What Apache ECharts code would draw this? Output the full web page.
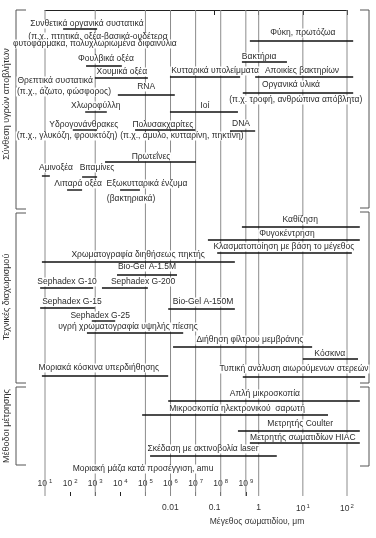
<!DOCTYPE html>
<html><head><meta charset="utf-8">
<script src="https://cdn.jsdelivr.net/npm/echarts@6/dist/echarts.min.js"></script>
<style>html,body{margin:0;padding:0;background:#fff}#c{width:376px;height:538px}</style>
</head><body><div id="c"></div><script>
// x: log10(particle size, μm); level: vertical row position inside the plot (top = 0)
const sizeTicks = [-2, -1, 0, 1, 2];
const sizeTickLabels = ['0.01', '0.1', '1', '10{s|1}', '10{s|2}'];
const massTicks = [1, 2, 3, 4, 5, 6, 7, 8, 9];          // log10(molar mass, amu)
const massGridLines = [1, 3, 5, 6, 7, 8, 9];
const sizeGridLines = [0, 1, 2];

const synthesisBars = [
  [-4.43, -3.66, 19], [-0.20, 2.14, 31], [-0.38, 0.64, 52], [-3.91, -3.10, 56],
  [-2.01, -0.42, 67], [-0.08, 2.14, 67], [-3.71, -2.51, 68], [-0.36, 2.14, 83],
  [-3.19, -1.90, 85], [-3.93, -3.44, 102], [-2.01, -0.47, 102], [-4.21, -3.66, 120],
  [-2.80, -1.44, 120], [-0.65, -0.08, 121], [-3.48, -1.42, 152], [-4.91, -4.73, 166],
  [-4.00, -3.66, 167], [-4.34, -4.00, 180], [-3.14, -2.69, 180]
];
const separationBars = [
  [-0.38, 2.29, 217], [-1.15, 2.29, 230], [-0.94, 2.11, 243], [-4.91, -0.54, 252],
  [-3.21, -1.85, 265], [-4.95, -3.75, 278], [-3.55, -2.51, 278], [-4.95, -3.71, 298],
  [-2.05, -0.54, 299], [-3.78, -3.25, 311], [-3.89, -1.71, 323], [-1.94, 1.21, 337],
  [1.00, 2.25, 349], [-4.91, -2.05, 366], [-0.36, 2.41, 367]
];
const measurementBars = [
  [-2.05, 2.29, 391], [-2.64, 1.57, 405], [-0.47, 2.29, 421], [-0.20, 2.29, 433], [-2.46, 0.41, 446]
];

const labelTexts = [
  'Συνθετικά οργανικά συστατικά', '(π.χ., πτητικά, οξέα-βασικά-ουδέτερα',
  'φυτοφάρμακα, πολυχλωριωμένα διφαινύλια', 'Φύκη, πρωτόζωα', 'Βακτήρια', 'Φουλβικά οξέα',
  'Κυτταρικά υπολείμματα', 'Αποικίες βακτηρίων', 'Χουμικά οξέα', 'Θρεπτικά συστατικά',
  'Οργανικά υλικά', 'RNA', '(π.χ., άζωτο, φώσφορος)', '(π.χ. τροφή, ανθρώπινα απόβλητα)',
  'Χλωροφύλλη', 'Ιοί', 'Υδρογονάνθρακες', 'Πολυσακχαρίτες', 'DNA',
  '(π.χ., γλυκόζη, φρουκτόζη)', '(π.χ., άμυλο, κυτταρίνη, πηκτίνη)', 'Πρωτεΐνες',
  'Αμινοξέα', 'Βιταμίνες', 'Λιπαρά οξέα', 'Εξωκυτταρικά ένζυμα', '(βακτηριακά)',
  'Καθίζηση', 'Φυγοκέντρηση', 'Κλασματοποίηση με βάση το μέγεθος',
  'Χρωματογραφία διηθήσεως πηκτής', 'Bio-Gel A-1.5M', 'Sephadex G-10', 'Sephadex G-200',
  'Sephadex G-15', 'Bio-Gel A-150M', 'Sephadex G-25', 'υγρή χρωματογραφία υψηλής πίεσης',
  'Διήθηση φίλτρου μεμβράνης', 'Κόσκινα', 'Μοριακά κόσκινα υπερδιήθησης',
  'Τυπική ανάλυση αιωρούμενων στερεών', 'Απλή μικροσκοπία', 'Μικροσκοπία ηλεκτρονικού  σαρωτή',
  'Μετρητής Coulter', 'Μετρητής σωματιδίων HIAC', 'Σκέδαση με ακτινοβολία laser',
  'Μοριακή μάζα κατά προσέγγιση, amu'
];
const labelPositions = [
  [-3.89, 14], [-3.64, 27], [-3.71, 34], [1.00, 23], [0.01, 47], [-3.46, 49],
  [-0.99, 61], [0.98, 61], [-3.10, 62], [-4.61, 71], [0.73, 75], [-2.55, 77],
  [-4.41, 82], [0.84, 90], [-3.69, 96], [-1.22, 96], [-3.96, 115], [-2.17, 115],
  [-0.40, 114], [-4.34, 126], [-1.74, 126], [-2.44, 147], [-4.59, 158], [-3.66, 158],
  [-4.09, 174], [-2.53, 174], [-2.89, 189],
  [0.94, 210], [0.64, 224], [0.57, 237], [-2.73, 245], [-2.53, 257], [-4.34, 272],
  [-2.62, 272], [-4.23, 292], [-1.26, 292], [-3.59, 306], [-2.96, 317], [-0.20, 330],
  [1.61, 344], [-3.62, 358], [0.80, 359],
  [0.14, 384], [-0.49, 399], [0.94, 414], [1.00, 428], [-1.26, 439], [-2.62, 459]
];

const groupNames = ['Σύνθεση υγρών αποβλήτων', 'Τεχνικές διαχωρισμού', 'Μέθοδοι μέτρησης'];

const FONT = '"Liberation Sans", Arial, sans-serif';
const chart = echarts.init(document.getElementById('c'), null, {renderer: 'canvas'});

function barSeries(data) {
  return {
    type: 'custom', xAxisIndex: 0, yAxisIndex: 0, z: 4, silent: true,
    encode: {x: [0, 1], y: 2},
    data: data,
    renderItem: function (params, api) {
      const a = api.coord([api.value(0), api.value(2)]);
      const b = api.coord([api.value(1), api.value(2)]);
      return {type: 'line', shape: {x1: a[0], y1: a[1], x2: b[0], y2: b[1]},
        style: {stroke: '#111', lineWidth: 1.4}};
    }
  };
}
function gridSeries(data, axisIdx) {
  return {
    type: 'custom', xAxisIndex: axisIdx, yAxisIndex: 0, z: 1, silent: true,
    encode: {x: 0},
    data: data.map(v => [v, 0]),
    renderItem: function (params, api) {
      const cs = params.coordSys;
      const p = api.coord([api.value(0), 0]);
      return {type: 'line', shape: {x1: p[0], y1: cs.y, x2: p[0], y2: cs.y + cs.height},
        style: {stroke: '#8c8c8c', lineWidth: 1}};
    }
  };
}

const option = {
  backgroundColor: '#fff',
  animation: false,
  grid: {left: 45, right: 29, top: 10, bottom: 42, containLabel: false},
  xAxis: [
    {type: 'value', min: -4.84, max: 2, position: 'bottom',
      splitLine: {show: false},
      axisLine: {lineStyle: {color: '#222', width: 1}},
      axisTick: {customValues: sizeTicks, length: 5, lineStyle: {color: '#222'}},
      axisLabel: {customValues: sizeTicks, margin: 7, color: '#333', fontFamily: FONT, fontSize: 8.5,
        formatter: v => sizeTickLabels[sizeTicks.indexOf(v)],
        rich: {s: {fontSize: 6, fontFamily: FONT, color: '#333', verticalAlign: 'top', padding: [0, 0, 5, 1]}}}},
    {type: 'value', min: 1, max: 13.03, position: 'bottom',
      splitLine: {show: false},
      axisLine: {show: false},
      axisTick: {inside: true, customValues: massTicks.slice(1), length: 4, lineStyle: {color: '#222'}},
      axisLabel: {inside: true, customValues: massTicks, margin: 7, color: '#333', fontFamily: FONT, fontSize: 8.5,
        formatter: v => '10{s|' + v + '}',
        rich: {s: {fontSize: 6, fontFamily: FONT, color: '#333', padding: [0, 0, 5, 2]}}}}
  ],
  yAxis: {type: 'value', min: 0, max: 486, inverse: true, show: false},
  graphic: [
    {type: 'polyline', shape: {points: [[26, 10], [16, 10], [16, 209], [26, 209]]}, style: {stroke: '#555', fill: null, lineWidth: 1}},
    {type: 'polyline', shape: {points: [[26, 213], [16, 213], [16, 383], [26, 383]]}, style: {stroke: '#555', fill: null, lineWidth: 1}},
    {type: 'polyline', shape: {points: [[26, 387], [16, 387], [16, 465], [26, 465]]}, style: {stroke: '#555', fill: null, lineWidth: 1}},
    {type: 'polyline', shape: {points: [[360, 10], [369, 10], [369, 208], [360, 208]]}, style: {stroke: '#555', fill: null, lineWidth: 1}},
    {type: 'polyline', shape: {points: [[360, 212], [369, 212], [369, 383], [360, 383]]}, style: {stroke: '#555', fill: null, lineWidth: 1}},
    {type: 'polyline', shape: {points: [[360, 387], [369, 387], [369, 466], [360, 466]]}, style: {stroke: '#555', fill: null, lineWidth: 1}},
    {type: 'text', x: 7, y: 104, rotation: Math.PI / 2, style: {text: groupNames[0], font: '9px ' + FONT, fill: '#333', align: 'center', verticalAlign: 'middle'}},
    {type: 'text', x: 7, y: 297, rotation: Math.PI / 2, style: {text: groupNames[1], font: '9px ' + FONT, fill: '#333', align: 'center', verticalAlign: 'middle'}},
    {type: 'text', x: 7, y: 426, rotation: Math.PI / 2, style: {text: groupNames[2], font: '9px ' + FONT, fill: '#333', align: 'center', verticalAlign: 'middle'}},
    {type: 'text', x: 257, y: 522, style: {text: 'Μέγεθος σωματιδίου, μm', font: '8.5px ' + FONT, fill: '#333', align: 'center', verticalAlign: 'middle'}}
  ],
  series: [
    gridSeries(massGridLines, 1),
    gridSeries(sizeGridLines, 0),
    {
      type: 'custom', xAxisIndex: 0, yAxisIndex: 0, z: 3, silent: true,
      encode: {x: 0, y: 1},
      data: labelPositions,
      renderItem: function (params, api) {
        const p = api.coord([api.value(0), api.value(1)]);
        return {type: 'text', x: p[0], y: p[1],
          style: {text: labelTexts[params.dataIndex], font: '8.5px ' + FONT, fill: '#2b2b2b',
            align: 'center', verticalAlign: 'middle', backgroundColor: '#fff', padding: [0, 1]}};
      }
    },
    barSeries(synthesisBars),
    barSeries(separationBars),
    barSeries(measurementBars)
  ]
};
chart.setOption(option);
</script></body></html>
